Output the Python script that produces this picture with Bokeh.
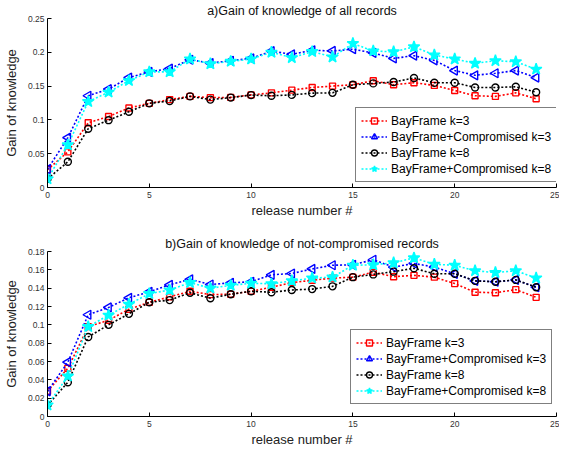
import numpy as np
from bokeh.plotting import figure
from bokeh.layouts import column
from bokeh.models import Range1d, FixedTicker, Legend, LegendItem
from bokeh.embed import file_html
from bokeh.resources import INLINE

release = list(range(25))
series_labels = ["BayFrame k=3", "BayFrame+Compromised k=3", "BayFrame k=8", "BayFrame+Compromised k=8"]

# a) all records
all_k3 = [0.0264, 0.0527, 0.0957, 0.105, 0.1177, 0.1245, 0.130, 0.1348, 0.133, 0.1333, 0.137, 0.140,
          0.144, 0.148, 0.150, 0.152, 0.158, 0.152, 0.155, 0.151, 0.1436, 0.1357, 0.1348, 0.140, 0.1313]
all_comp_k3 = [0.0269, 0.0737, 0.1357, 0.1455, 0.1626, 0.171, 0.176, 0.189, 0.184, 0.1875, 0.191, 0.2017,
               0.197, 0.203, 0.202, 0.2046, 0.199, 0.191, 0.195, 0.188, 0.173, 0.166, 0.169, 0.173, 0.1626]
all_k8 = [0.0127, 0.038, 0.087, 0.0996, 0.112, 0.1245, 0.128, 0.1348, 0.130, 0.133, 0.1367, 0.1357,
          0.137, 0.1396, 0.140, 0.152, 0.154, 0.156, 0.162, 0.155, 0.155, 0.148, 0.148, 0.149, 0.141]
all_comp_k8 = [0.0127, 0.063, 0.127, 0.141, 0.158, 0.171, 0.171, 0.190, 0.183, 0.1865, 0.190, 0.200,
               0.192, 0.201, 0.193, 0.213, 0.202, 0.2007, 0.208, 0.196, 0.190, 0.1836, 0.1875, 0.186, 0.175]

# b) not-compromised records
nc_k3 = [0.0275, 0.0526, 0.098, 0.105, 0.117, 0.1246, 0.1306, 0.1366, 0.133, 0.1334, 0.1366, 0.141,
         0.146, 0.1486, 0.151, 0.152, 0.1574, 0.1525, 0.154, 0.152, 0.145, 0.1356, 0.135, 0.1384, 0.130]
nc_comp_k3 = [0.0275, 0.0593, 0.111, 0.119, 0.1295, 0.136, 0.1437, 0.1497, 0.144, 0.1458, 0.147, 0.1546,
              0.156, 0.161, 0.165, 0.1655, 0.171, 0.163, 0.167, 0.163, 0.1557, 0.148, 0.147, 0.149, 0.141]
nc_k8 = [0.0124, 0.0374, 0.0868, 0.100, 0.112, 0.1246, 0.127, 0.135, 0.129, 0.1334, 0.1366, 0.1355,
         0.138, 0.139, 0.142, 0.152, 0.155, 0.158, 0.1617, 0.1557, 0.1557, 0.148, 0.147, 0.149, 0.141]
nc_comp_k8 = [0.0124, 0.044, 0.098, 0.1105, 0.1225, 0.134, 0.138, 0.146, 0.140, 0.143, 0.1454, 0.1447,
              0.148, 0.151, 0.152, 0.165, 0.1655, 0.1677, 0.173, 0.166, 0.165, 0.159, 0.157, 0.159, 0.151]

x_ticks = [0, 5, 10, 15, 20, 25]
y_ticks_a = [0, 0.05, 0.1, 0.15, 0.2, 0.25]
y_labels_a = ["0", "0.05", "0.1", "0.15", "0.2", "0.25"]
y_ticks_b = [0, 0.02, 0.04, 0.06, 0.08, 0.1, 0.12, 0.14, 0.16, 0.18]
y_labels_b = ["0", "0.02", "0.04", "0.06", "0.08", "0.1", "0.12", "0.14", "0.16", "0.18"]

FONT = "Liberation Sans"
styles = [
    dict(color="#ff0000", marker="square", size=6, fill=False, angle=0.0),
    dict(color="#0000ff", marker="triangle", size=9, fill=False, angle=np.pi / 2),
    dict(color="#000000", marker="circle", size=7, fill=False, angle=0.0),
    dict(color="#00ffff", marker="star", size=12, fill=True, angle=0.0),
]


def make_plot(title, series, yticks, ylabels, ymax, frame_h, border_top, border_bottom, legend_loc):
    p = figure(frame_width=509, frame_height=frame_h, output_backend="svg", toolbar_location=None,
               x_range=Range1d(0, 25), y_range=Range1d(0, ymax),
               min_border_left=41, min_border_right=3,
               min_border_top=border_top, min_border_bottom=border_bottom)
    p.title.text = title
    p.title.align = "center"
    p.title.text_font = FONT
    p.title.text_font_size = "12.5px"
    p.title.text_font_style = "normal"
    p.title.text_color = "#111111"
    p.title.standoff = 2
    p.title.offset = 0
    p.outline_line_color = None
    p.grid.visible = False
    p.background_fill_color = "white"

    for ax in (p.xaxis[0], p.yaxis[0]):
        ax.major_tick_in = 4
        ax.major_tick_out = 0
        ax.minor_tick_line_color = None
        ax.axis_line_color = "#000000"
        ax.major_tick_line_color = "#000000"
        ax.major_label_text_font = FONT
        ax.major_label_text_font_size = "8.5px"
        ax.major_label_text_color = "#333333"
        ax.axis_label_text_font = FONT
        ax.axis_label_text_font_size = "13px"
        ax.axis_label_text_font_style = "normal"
        ax.axis_label_text_color = "#222222"
    p.xaxis.ticker = FixedTicker(ticks=x_ticks)
    p.yaxis.ticker = FixedTicker(ticks=yticks)
    p.yaxis.major_label_overrides = {t: l for t, l in zip(yticks, ylabels)}
    p.xaxis.axis_label = "release number #"
    p.yaxis.axis_label = "Gain of knowledge"
    p.xaxis.major_label_standoff = 4
    p.xaxis.axis_label_standoff = 2
    p.yaxis.major_label_standoff = 3
    p.yaxis.axis_label_standoff = 6

    items = []
    for lab, ys, st in zip(series_labels, series, styles):
        ln = p.line(release, ys, line_color=st["color"], line_width=1.6, line_dash="2 2")
        sc = p.scatter(release, ys, marker=st["marker"], size=st["size"], angle=st["angle"],
                       line_color=st["color"], line_width=1.4,
                       fill_color=st["color"] if st["fill"] else None)
        items.append(LegendItem(label=lab, renderers=[ln, sc]))
    lg = Legend(items=items, location=legend_loc)
    lg.label_text_font = FONT
    lg.label_text_font_size = "12px"
    lg.label_text_color = "#000000"
    lg.glyph_width = 26
    lg.glyph_height = 15
    lg.label_height = 15
    lg.label_standoff = 4
    lg.spacing = 1
    lg.padding = 5
    lg.margin = 0
    lg.border_line_color = "#000000"
    lg.border_line_width = 1.2
    lg.background_fill_alpha = 1.0
    p.add_layout(lg, "center")
    return p


p1 = make_plot("a)Gain of knowledge of all records",
               [all_k3, all_comp_k3, all_k8, all_comp_k8],
               y_ticks_a, y_labels_a, 0.25, 169, 13, 36, (308, 5))
p2 = make_plot("b)Gain of knowledge of not-compromised records",
               [nc_k3, nc_comp_k3, nc_k8, nc_comp_k8],
               y_ticks_b, y_labels_b, 0.18, 165, 28, 31, (303, 12))

layout = column(p1, p2, spacing=0)
open("out.html", "w").write(file_html(layout, INLINE))
